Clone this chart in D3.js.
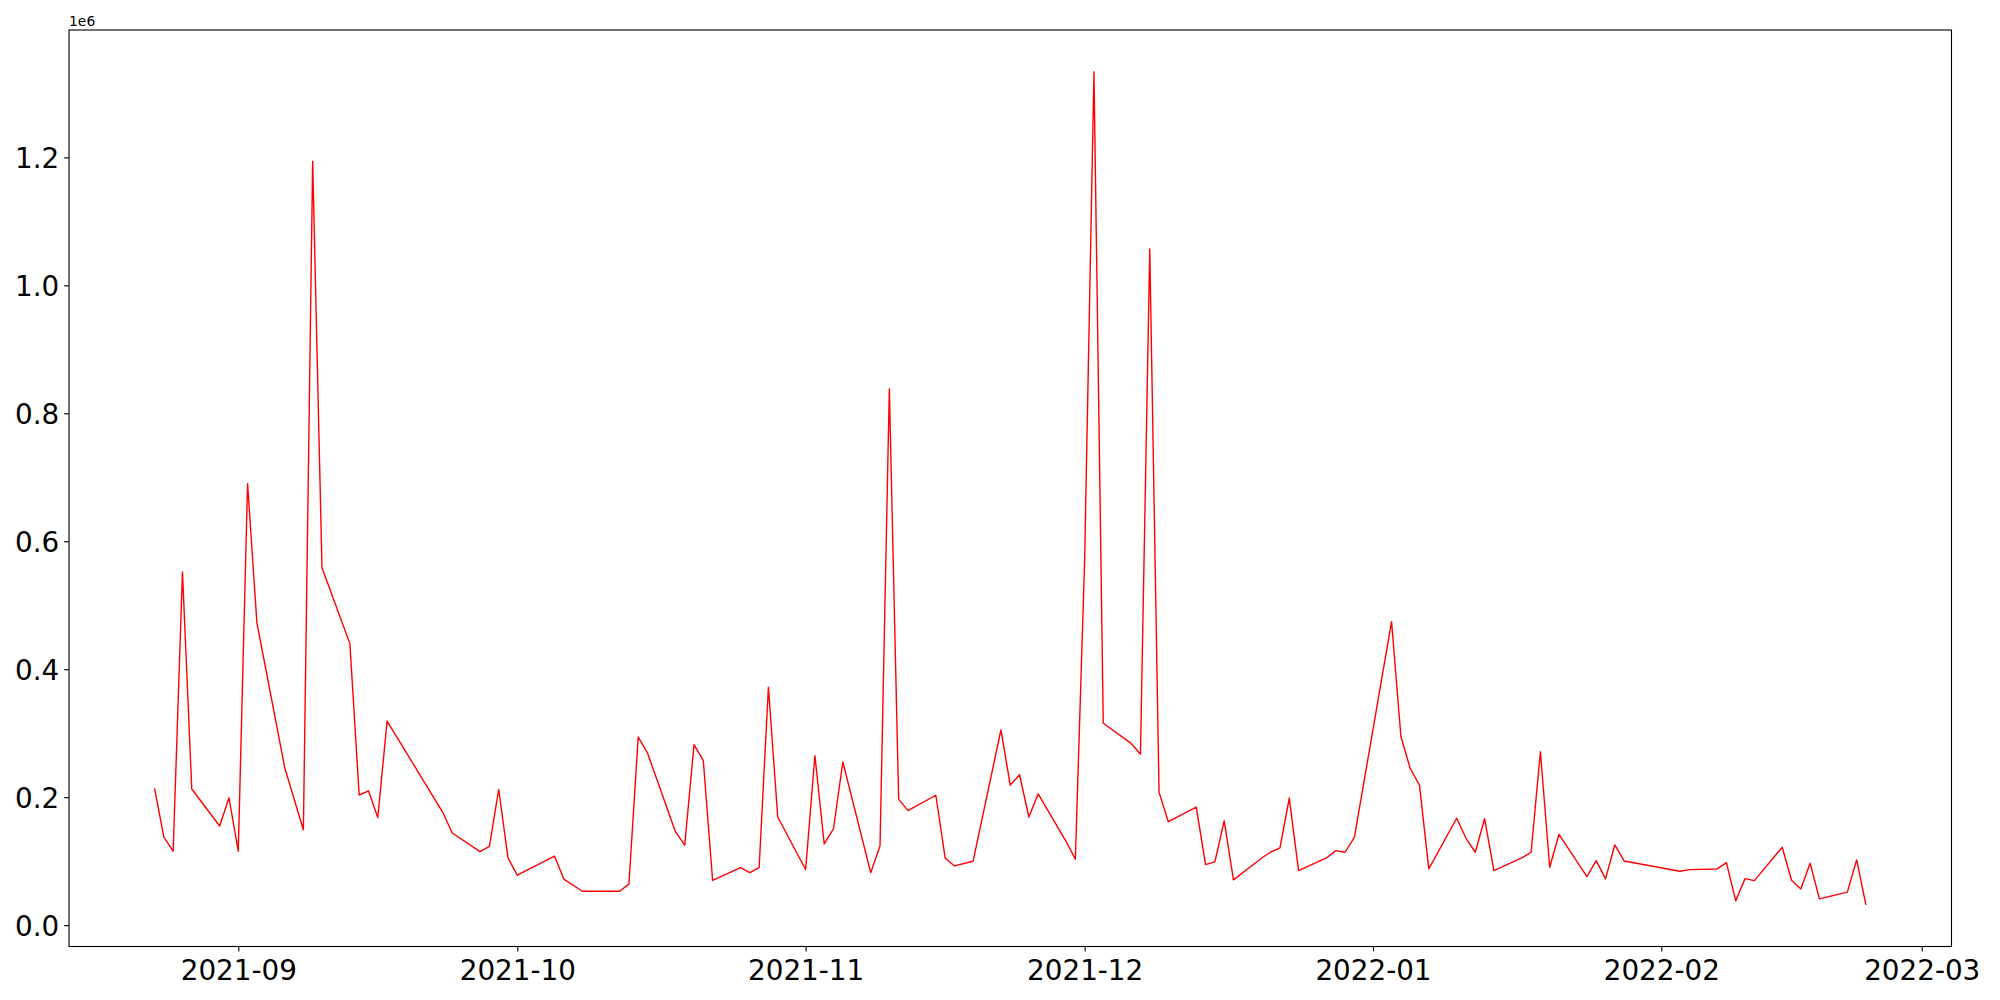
<!DOCTYPE html>
<html>
<head>
<meta charset="utf-8">
<script src="https://cdn.jsdelivr.net/npm/d3@7"></script>
<style>
  html, body { margin: 0; padding: 0; background: #fff; }
  svg { display: block; }
  text { font-family: "DejaVu Sans", sans-serif; fill: #000; }
</style>
</head>
<body>
<svg id="chart" width="2000" height="1000"></svg>
<script>
// ---- data ----
const dates = [
  "2021-08-23","2021-08-24","2021-08-25","2021-08-26","2021-08-27","2021-08-30","2021-08-31",
  "2021-09-01","2021-09-02","2021-09-03","2021-09-06","2021-09-08","2021-09-09","2021-09-10",
  "2021-09-13","2021-09-14","2021-09-15","2021-09-16","2021-09-17","2021-09-23","2021-09-24",
  "2021-09-27","2021-09-28","2021-09-29","2021-09-30","2021-10-01","2021-10-05","2021-10-06",
  "2021-10-08","2021-10-12","2021-10-13","2021-10-14","2021-10-15","2021-10-18","2021-10-19",
  "2021-10-20","2021-10-21","2021-10-22","2021-10-25","2021-10-26","2021-10-27","2021-10-28",
  "2021-10-29","2021-11-01","2021-11-02","2021-11-03","2021-11-04","2021-11-05","2021-11-08",
  "2021-11-09","2021-11-10","2021-11-11","2021-11-12","2021-11-15","2021-11-16","2021-11-17",
  "2021-11-19","2021-11-22","2021-11-23","2021-11-24","2021-11-25","2021-11-26","2021-11-29",
  "2021-11-30","2021-12-01","2021-12-02","2021-12-03","2021-12-06","2021-12-07","2021-12-08",
  "2021-12-09","2021-12-10","2021-12-13","2021-12-14","2021-12-15","2021-12-16","2021-12-17",
  "2021-12-20","2021-12-21","2021-12-22","2021-12-23","2021-12-24","2021-12-27","2021-12-28",
  "2021-12-29","2021-12-30","2022-01-03","2022-01-04","2022-01-05","2022-01-06","2022-01-07",
  "2022-01-10","2022-01-11","2022-01-12","2022-01-13","2022-01-14","2022-01-17","2022-01-18",
  "2022-01-19","2022-01-20","2022-01-21","2022-01-24","2022-01-25","2022-01-26","2022-01-27",
  "2022-01-28","2022-02-03","2022-02-04","2022-02-07","2022-02-08","2022-02-09","2022-02-10",
  "2022-02-11","2022-02-14","2022-02-15","2022-02-16","2022-02-17","2022-02-18","2022-02-21",
  "2022-02-22","2022-02-23"
];
const values = [
  213600,137400,115500,552000,212700,155000,199000,
  115500,690000,473000,245700,149000,1194000,558500,
  440000,203400,210000,168000,319000,176000,144000,
  115000,123000,212000,105000,78000,108000,72000,
  53000,53000,64000,294000,269000,146000,125000,
  282000,257000,70000,90000,82000,90000,372000,
  169000,87000,265000,127000,151000,255000,82000,
  124000,838000,197000,179000,203000,105000,92500,
  99800,305000,219000,235000,169000,205000,131000,
  103000,571000,1334000,315600,284000,267000,1057000,
  207500,161700,184600,94600,98800,163000,70700,
  104500,114300,120600,198600,85200,105000,116400,
  113900,137300,474300,294800,245000,218900,87800,
  167000,135700,113900,166300,85200,105000,113900,
  270900,90500,142000,75900,100800,72200,125300,
  100300,84200,86700,87800,97700,37900,72700,
  69600,121700,70200,56600,96700,41000,51500,
  101900,31700
];
const yTicks = [0, 200000, 400000, 600000, 800000, 1000000, 1200000];
const yTickLabels = ["0.0", "0.2", "0.4", "0.6", "0.8", "1.0", "1.2"];
const xTickLabels = ["2021-09", "2021-10", "2021-11", "2021-12", "2022-01", "2022-02", "2022-03"];
const offsetLabel = "1e6";

// ---- layout ----
const W = 2000, H = 1000;
const margin = { left: 69, right: 48.5, top: 30, bottom: 53.5 };
const iw = W - margin.left - margin.right;
const ih = H - margin.top - margin.bottom;

const parse = d3.utcParse("%Y-%m-%d");
const data = dates.map((d, i) => ({ t: parse(d), v: values[i] }));

// matplotlib-like 5% margins
const tExt = d3.extent(data, d => +d.t);
const tPad = (tExt[1] - tExt[0]) * 0.05;
const x = d3.scaleUtc()
  .domain([new Date(tExt[0] - tPad), new Date(tExt[1] + tPad)])
  .range([margin.left, margin.left + iw]);

const vExt = d3.extent(values);
const vPad = (vExt[1] - vExt[0]) * 0.05;
const y = d3.scaleLinear()
  .domain([vExt[0] - vPad, vExt[1] + vPad])
  .range([margin.top + ih, margin.top]);

const svg = d3.select("#chart");

// line
const line = d3.line().x(d => x(d.t)).y(d => y(d.v));
svg.append("path")
  .datum(data)
  .attr("fill", "none")
  .attr("stroke", "#ff0000")
  .attr("stroke-width", 1.4)
  .attr("stroke-linejoin", "round")
  .attr("d", line);

// x axis
const xTicks = xTickLabels.map(s => d3.utcParse("%Y-%m")(s));
const xAxis = d3.axisBottom(x)
  .tickValues(xTicks)
  .tickFormat((d, i) => xTickLabels[i])
  .tickSize(4.9)
  .tickPadding(4.9);
const gx = svg.append("g")
  .attr("transform", `translate(0,${margin.top + ih})`)
  .call(xAxis);
gx.select(".domain").remove();
gx.selectAll(".tick line").attr("stroke", "#000").attr("stroke-width", 1.1);
gx.selectAll(".tick text")
  .attr("font-size", 27.8)
  .attr("dy", null)
  .attr("y", 33.5)
  .style("font-family", "'DejaVu Sans', sans-serif");

// y axis
const yAxis = d3.axisLeft(y)
  .tickValues(yTicks)
  .tickFormat((d, i) => yTickLabels[i])
  .tickSize(4.9)
  .tickPadding(4.9);
const gy = svg.append("g")
  .attr("transform", `translate(${margin.left},0)`)
  .call(yAxis);
gy.select(".domain").remove();
gy.selectAll(".tick line").attr("stroke", "#000").attr("stroke-width", 1.1);
gy.selectAll(".tick text")
  .attr("font-size", 27.8)
  .attr("dy", "0.36em")
  .style("font-family", "'DejaVu Sans', sans-serif");

// frame
svg.append("rect")
  .attr("x", margin.left)
  .attr("y", margin.top)
  .attr("width", iw)
  .attr("height", ih)
  .attr("fill", "none")
  .attr("stroke", "#000")
  .attr("stroke-width", 1.1);

// offset text
svg.append("text")
  .attr("x", margin.left)
  .attr("y", margin.top - 4.5)
  .attr("font-size", 13.9)
  .text(offsetLabel);
</script>
</body>
</html>
